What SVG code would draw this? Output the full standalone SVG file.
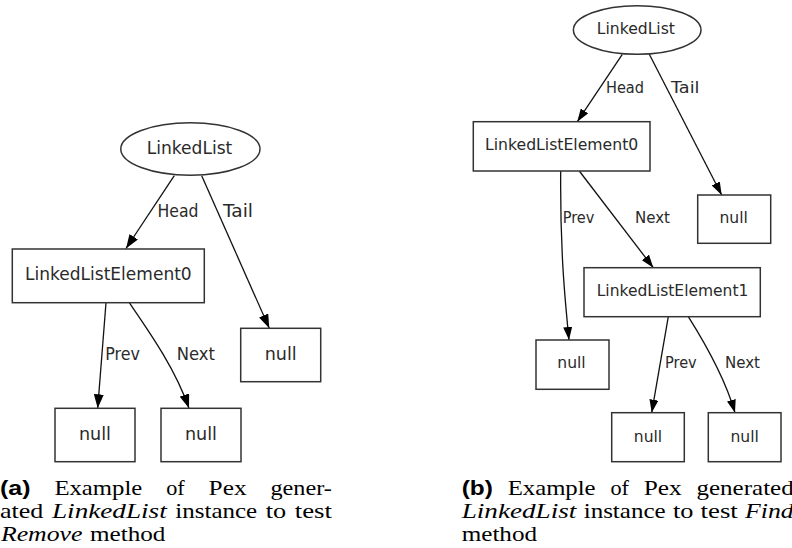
<svg xmlns="http://www.w3.org/2000/svg" width="792" height="548" viewBox="0 0 792 548">
<style>
  .shape { fill: #fff; stroke: #333; stroke-width: 1.5; }
  .edge { fill: none; stroke: #111; stroke-width: 1.3; }
  .lbl { font-family: "DejaVu Sans", "Liberation Sans", sans-serif; fill: #2a2a2a; }
  .big { font-size: 17px; }
  .sm { font-size: 15.5px; }
  .cap { font-family: "Liberation Serif", "Times New Roman", serif; font-size: 21px; fill: #000; }
  .it { font-style: italic; }
  .bf { font-family: "Liberation Sans", "DejaVu Sans", sans-serif; font-weight: bold; font-size: 20px; }
</style>
<defs>
  <marker id="ah" viewBox="0 0 14 10" refX="14" refY="5" markerWidth="14" markerHeight="10" markerUnits="userSpaceOnUse" orient="auto">
    <path d="M0,0 L14,5 L0,10 z" fill="#000"/>
  </marker>
  <marker id="ahs" viewBox="0 0 13 9" refX="13" refY="4.5" markerWidth="13" markerHeight="9" markerUnits="userSpaceOnUse" orient="auto">
    <path d="M0,0 L13,4.5 L0,9 z" fill="#000"/>
  </marker>
</defs>

<!-- ===== Left diagram (a) ===== -->
<g id="a-connectors">
  <path class="edge" d="M174.3,175.7 L126,248.5" marker-end="url(#ah)"/>
  <path class="edge" d="M201.7,175.7 L269.3,328.3" marker-end="url(#ah)"/>
  <path class="edge" d="M106,302.7 L97.7,408.3" marker-end="url(#ah)"/>
  <path class="edge" d="M129.3,302.7 C148,330 175,368 189,408.3" marker-end="url(#ah)"/>
  <text class="lbl big" x="157.5" y="217" textLength="41" lengthAdjust="spacingAndGlyphs">Head</text>
  <text class="lbl big" x="223" y="217" textLength="30" lengthAdjust="spacingAndGlyphs">Tail</text>
  <text class="lbl big" x="105.3" y="360" textLength="34.7" lengthAdjust="spacingAndGlyphs">Prev</text>
  <text class="lbl big" x="176.7" y="360" textLength="38.3" lengthAdjust="spacingAndGlyphs">Next</text>
</g>
<g id="a-linkedlist">
  <ellipse class="shape" cx="190.4" cy="149" rx="69.6" ry="26.2"/>
  <text class="lbl big" x="146.7" y="154" textLength="85.6" lengthAdjust="spacingAndGlyphs">LinkedList</text>
</g>
<g id="a-element0">
  <rect class="shape" x="12.3" y="249" width="192" height="53.7"/>
  <text class="lbl big" x="25" y="280" textLength="166.7" lengthAdjust="spacingAndGlyphs">LinkedListElement0</text>
</g>
<g id="a-null-tail">
  <rect class="shape" x="240.7" y="328.3" width="80" height="53.4"/>
  <text class="lbl big" x="264.7" y="360" textLength="32" lengthAdjust="spacingAndGlyphs">null</text>
</g>
<g id="a-null-prev">
  <rect class="shape" x="55" y="408.3" width="80" height="53.4"/>
  <text class="lbl big" x="79" y="440" textLength="32" lengthAdjust="spacingAndGlyphs">null</text>
</g>
<g id="a-null-next">
  <rect class="shape" x="161" y="408.3" width="80" height="53.4"/>
  <text class="lbl big" x="185" y="440" textLength="32" lengthAdjust="spacingAndGlyphs">null</text>
</g>

<!-- ===== Right diagram (b) ===== -->
<g id="b-connectors">
  <path class="edge" d="M622.3,54.3 L577.3,121.7" marker-end="url(#ahs)"/>
  <path class="edge" d="M649.3,54.3 L721.7,195" marker-end="url(#ahs)"/>
  <path class="edge" d="M560.7,171 C560,250 565,300 569,340" marker-end="url(#ahs)"/>
  <path class="edge" d="M579.3,171 L653.3,267.7" marker-end="url(#ahs)"/>
  <path class="edge" d="M668.3,316.7 L651.7,412.7" marker-end="url(#ahs)"/>
  <path class="edge" d="M688.3,316.7 C703,340 724,375 735,412.7" marker-end="url(#ahs)"/>
  <text class="lbl sm" x="606" y="92.7" textLength="38" lengthAdjust="spacingAndGlyphs">Head</text>
  <text class="lbl sm" x="671" y="92.7" textLength="28.5" lengthAdjust="spacingAndGlyphs">Tail</text>
  <text class="lbl sm" x="562.7" y="223.3" textLength="31.7" lengthAdjust="spacingAndGlyphs">Prev</text>
  <text class="lbl sm" x="635" y="223.3" textLength="35" lengthAdjust="spacingAndGlyphs">Next</text>
  <text class="lbl sm" x="665" y="368.3" textLength="31.7" lengthAdjust="spacingAndGlyphs">Prev</text>
  <text class="lbl sm" x="725" y="368.3" textLength="35" lengthAdjust="spacingAndGlyphs">Next</text>
</g>
<g id="b-linkedlist">
  <ellipse class="shape" cx="637.2" cy="30" rx="63.8" ry="24.3"/>
  <text class="lbl sm" x="596.7" y="34" textLength="78.3" lengthAdjust="spacingAndGlyphs">LinkedList</text>
</g>
<g id="b-element0">
  <rect class="shape" x="473.3" y="121.7" width="176.7" height="49.3"/>
  <text class="lbl sm" x="485" y="150" textLength="153.3" lengthAdjust="spacingAndGlyphs">LinkedListElement0</text>
</g>
<g id="b-null-tail">
  <rect class="shape" x="697.7" y="195" width="73" height="48.3"/>
  <text class="lbl sm" x="719.5" y="223.3" textLength="28.4" lengthAdjust="spacingAndGlyphs">null</text>
</g>
<g id="b-element1">
  <rect class="shape" x="584" y="267.7" width="176.3" height="49"/>
  <text class="lbl sm" x="596.7" y="296" textLength="151.7" lengthAdjust="spacingAndGlyphs">LinkedListElement1</text>
</g>
<g id="b-null-prev0">
  <rect class="shape" x="536" y="340" width="73" height="49.3"/>
  <text class="lbl sm" x="557.3" y="368.3" textLength="28.4" lengthAdjust="spacingAndGlyphs">null</text>
</g>
<g id="b-null-prev1">
  <rect class="shape" x="611.7" y="412.7" width="72.6" height="49"/>
  <text class="lbl sm" x="633.8" y="441.7" textLength="28.4" lengthAdjust="spacingAndGlyphs">null</text>
</g>
<g id="b-null-next1">
  <rect class="shape" x="708.3" y="412.7" width="72.7" height="49"/>
  <text class="lbl sm" x="730.5" y="441.7" textLength="28.4" lengthAdjust="spacingAndGlyphs">null</text>
</g>

<!-- ===== Captions ===== -->
<g id="caption-a" class="cap">
  <text class="bf" x="0" y="495" textLength="30.5" lengthAdjust="spacingAndGlyphs">(a)</text>
  <text x="54.4" y="495" textLength="87.9" lengthAdjust="spacingAndGlyphs">Example</text>
  <text x="166.2" y="495" textLength="18.5" lengthAdjust="spacingAndGlyphs">of</text>
  <text x="208.6" y="495" textLength="38" lengthAdjust="spacingAndGlyphs">Pex</text>
  <text x="270.5" y="495" textLength="61.4" lengthAdjust="spacingAndGlyphs">gener-</text>
  <text x="0" y="518" textLength="43.4" lengthAdjust="spacingAndGlyphs">ated</text>
  <text class="it" x="52" y="518" textLength="114.7" lengthAdjust="spacingAndGlyphs">LinkedList</text>
  <text x="175.3" y="518" textLength="81.9" lengthAdjust="spacingAndGlyphs">instance</text>
  <text x="265.8" y="518" textLength="20.4" lengthAdjust="spacingAndGlyphs">to</text>
  <text x="294.8" y="518" textLength="37.2" lengthAdjust="spacingAndGlyphs">test</text>
  <text class="it" x="1" y="541" textLength="81.4" lengthAdjust="spacingAndGlyphs">Remove</text>
  <text x="90" y="541" textLength="75.4" lengthAdjust="spacingAndGlyphs">method</text>
</g>
<g id="caption-b" class="cap">
  <text class="bf" x="461.7" y="495" textLength="31.2" lengthAdjust="spacingAndGlyphs">(b)</text>
  <text x="507.7" y="495" textLength="87.9" lengthAdjust="spacingAndGlyphs">Example</text>
  <text x="610.4" y="495" textLength="18.5" lengthAdjust="spacingAndGlyphs">of</text>
  <text x="643.7" y="495" textLength="38" lengthAdjust="spacingAndGlyphs">Pex</text>
  <text x="696.5" y="495" textLength="97.2" lengthAdjust="spacingAndGlyphs">generated</text>
  <text class="it" x="461.7" y="518" textLength="114.7" lengthAdjust="spacingAndGlyphs">LinkedList</text>
  <text x="583.7" y="518" textLength="81.9" lengthAdjust="spacingAndGlyphs">instance</text>
  <text x="672.9" y="518" textLength="20.4" lengthAdjust="spacingAndGlyphs">to</text>
  <text x="700.6" y="518" textLength="37.2" lengthAdjust="spacingAndGlyphs">test</text>
  <text class="it" x="745.1" y="518" textLength="48.5" lengthAdjust="spacingAndGlyphs">Find</text>
  <text x="461.7" y="541" textLength="75.4" lengthAdjust="spacingAndGlyphs">method</text>
</g>
</svg>
